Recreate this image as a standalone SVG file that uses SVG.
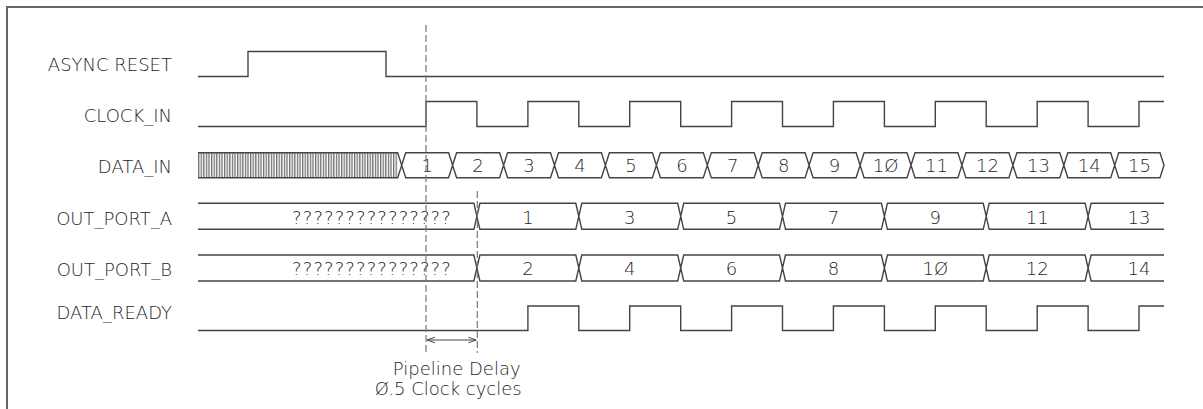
<svg xmlns="http://www.w3.org/2000/svg" width="1203" height="409" viewBox="0 0 1203 409">
<style>
  .sig{fill:none;stroke:#444;stroke-width:1.4;stroke-linejoin:miter}
  .bus{fill:#fff;stroke:#444;stroke-width:1.4;stroke-linejoin:miter}
  .lbl{font-family:"DejaVu Sans","Liberation Sans",sans-serif;font-size:18px;font-weight:200;fill:#1e1e1e;text-anchor:end}
  .val{font-family:"DejaVu Sans","Liberation Sans",sans-serif;font-size:18px;font-weight:200;fill:#1e1e1e;text-anchor:middle}
  .dash{fill:none;stroke:#777;stroke-width:1.2;stroke-dasharray:7,3}
  .dim{fill:none;stroke:#444;stroke-width:1.2}
</style>
<defs>
  <pattern id="hatch" x="198" y="0" width="2.6" height="10" patternUnits="userSpaceOnUse">
    <line x1="0.7" y1="0" x2="0.7" y2="10" stroke="#444" stroke-width="1"/>
  </pattern>
  <marker id="arr" viewBox="0 0 10 10" refX="10" refY="5" markerWidth="8" markerHeight="8" orient="auto-start-reverse" markerUnits="userSpaceOnUse">
    <path d="M0,1.5 L10,5 L0,8.5" fill="none" stroke="#444" stroke-width="1.2"/>
  </marker>
</defs>
<rect width="1203" height="409" fill="#fff"/>
<path d="M7,409 V7 H1203" fill="none" stroke="#666" stroke-width="2"/>

<g id="async_reset">
  <text class="lbl" x="172" y="70.7">ASYNC RESET</text>
  <path class="sig" d="M198,76.5 H248 V51.5 H386 V76.5 H1164"/>
</g>

<g id="clock_in">
  <text class="lbl" x="172" y="121.7">CLOCK_IN</text>
  <path class="sig" d="M198,126.5 H426 V101.5 H476.9 V126.5 H527.9 V101.5 H578.8 V126.5 H629.7 V101.5 H680.7 V126.5 H731.6 V101.5 H782.5 V126.5 H833.4 V101.5 H884.4 V126.5 H935.3 V101.5 H986.2 V126.5 H1037.2 V101.5 H1088.1 V126.5 H1139 V101.5 H1164"/>
</g>

<g id="data_in">
  <text class="lbl" x="172" y="172.7">DATA_IN</text>
  <rect x="198" y="152.7" width="199.7" height="25" fill="url(#hatch)"/>
  <path class="sig" d="M198,152.7 H397.7 L401.7,165.2 L397.7,177.7 H198"/>
  <path class="bus" d="M401.7,165.2 L405.7,152.7 H448.6 L452.6,165.2 L448.6,177.7 H405.7 Z
    M452.6,165.2 L456.6,152.7 H499.6 L503.6,165.2 L499.6,177.7 H456.6 Z
    M503.6,165.2 L507.6,152.7 H550.5 L554.5,165.2 L550.5,177.7 H507.6 Z
    M554.5,165.2 L558.5,152.7 H601.4 L605.4,165.2 L601.4,177.7 H558.5 Z
    M605.4,165.2 L609.4,152.7 H652.4 L656.4,165.2 L652.4,177.7 H609.4 Z
    M656.4,165.2 L660.4,152.7 H703.3 L707.3,165.2 L703.3,177.7 H660.4 Z
    M707.3,165.2 L711.3,152.7 H754.2 L758.2,165.2 L754.2,177.7 H711.3 Z
    M758.2,165.2 L762.2,152.7 H805.1 L809.1,165.2 L805.1,177.7 H762.2 Z
    M809.1,165.2 L813.1,152.7 H856.1 L860.1,165.2 L856.1,177.7 H813.1 Z
    M860.1,165.2 L864.1,152.7 H907.0 L911.0,165.2 L907.0,177.7 H864.1 Z
    M911.0,165.2 L915.0,152.7 H957.9 L961.9,165.2 L957.9,177.7 H915.0 Z
    M961.9,165.2 L965.9,152.7 H1008.9 L1012.9,165.2 L1008.9,177.7 H965.9 Z
    M1012.9,165.2 L1016.9,152.7 H1059.8 L1063.8,165.2 L1059.8,177.7 H1016.9 Z
    M1063.8,165.2 L1067.8,152.7 H1110.7 L1114.7,165.2 L1110.7,177.7 H1067.8 Z
    M1114.7,165.2 L1118.7,152.7 H1160 L1164,165.2 L1160,177.7 H1118.7 Z"/>
  <g>
    <text class="val" x="427.2" y="171.7">1</text>
    <text class="val" x="478.1" y="171.7">2</text>
    <text class="val" x="529.1" y="171.7">3</text>
    <text class="val" x="580.0" y="171.7">4</text>
    <text class="val" x="630.9" y="171.7">5</text>
    <text class="val" x="681.9" y="171.7">6</text>
    <text class="val" x="732.8" y="171.7">7</text>
    <text class="val" x="783.7" y="171.7">8</text>
    <text class="val" x="834.6" y="171.7">9</text>
    <text class="val" x="885.6" y="171.7">1Ø</text>
    <text class="val" x="936.5" y="171.7">11</text>
    <text class="val" x="987.4" y="171.7">12</text>
    <text class="val" x="1038.4" y="171.7">13</text>
    <text class="val" x="1089.3" y="171.7">14</text>
    <text class="val" x="1139.4" y="171.7">15</text>
  </g>
</g>

<g id="out_port_a">
  <text class="lbl" x="172" y="225">OUT_PORT_A</text>
  <path class="sig" d="M198,203.3 H473.9 L476.9,216.3 L473.9,229.3 H198 M1164,203.3 H1091.1 L1088.1,216.3 L1091.1,229.3 H1164"/>
  <path class="bus" d="M476.9,216.3 L479.9,203.3 H575.8 L578.8,216.3 L575.8,229.3 H479.9 Z
    M578.8,216.3 L581.8,203.3 H677.7 L680.7,216.3 L677.7,229.3 H581.8 Z
    M680.7,216.3 L683.7,203.3 H779.5 L782.5,216.3 L779.5,229.3 H683.7 Z
    M782.5,216.3 L785.5,203.3 H881.4 L884.4,216.3 L881.4,229.3 H785.5 Z
    M884.4,216.3 L887.4,203.3 H983.2 L986.2,216.3 L983.2,229.3 H887.4 Z
    M986.2,216.3 L989.2,203.3 H1085.1 L1088.1,216.3 L1085.1,229.3 H989.2 Z"/>
  <text class="val" x="372" y="223.8" letter-spacing="1.1">???????????????</text>
  <text class="val" x="527.9" y="223.5">1</text>
  <text class="val" x="629.7" y="223.5">3</text>
  <text class="val" x="731.6" y="223.5">5</text>
  <text class="val" x="833.4" y="223.5">7</text>
  <text class="val" x="935.3" y="223.5">9</text>
  <text class="val" x="1037.2" y="223.5">11</text>
  <text class="val" x="1139" y="223.5">13</text>
</g>

<g id="out_port_b">
  <text class="lbl" x="172" y="275.5">OUT_PORT_B</text>
  <g transform="translate(0,51.7)">
    <path class="sig" d="M198,203.3 H473.9 L476.9,216.3 L473.9,229.3 H198 M1164,203.3 H1091.1 L1088.1,216.3 L1091.1,229.3 H1164"/>
    <path class="bus" d="M476.9,216.3 L479.9,203.3 H575.8 L578.8,216.3 L575.8,229.3 H479.9 Z
      M578.8,216.3 L581.8,203.3 H677.7 L680.7,216.3 L677.7,229.3 H581.8 Z
      M680.7,216.3 L683.7,203.3 H779.5 L782.5,216.3 L779.5,229.3 H683.7 Z
      M782.5,216.3 L785.5,203.3 H881.4 L884.4,216.3 L881.4,229.3 H785.5 Z
      M884.4,216.3 L887.4,203.3 H983.2 L986.2,216.3 L983.2,229.3 H887.4 Z
      M986.2,216.3 L989.2,203.3 H1085.1 L1088.1,216.3 L1085.1,229.3 H989.2 Z"/>
    <text class="val" x="372" y="223.3" letter-spacing="1.1">???????????????</text>
    <text class="val" x="527.9" y="223">2</text>
    <text class="val" x="629.7" y="223">4</text>
    <text class="val" x="731.6" y="223">6</text>
    <text class="val" x="833.4" y="223">8</text>
    <text class="val" x="935.3" y="223">1Ø</text>
    <text class="val" x="1037.2" y="223">12</text>
    <text class="val" x="1139" y="223">14</text>
  </g>
</g>

<g id="data_ready">
  <text class="lbl" x="172" y="319">DATA_READY</text>
  <path class="sig" d="M198,330.5 H527.9 V306 H578.8 V330.5 H629.7 V306 H680.7 V330.5 H731.6 V306 H782.5 V330.5 H833.4 V306 H884.4 V330.5 H935.3 V306 H986.2 V330.5 H1037.2 V306 H1088.1 V330.5 H1139 V306 H1164"/>
</g>

<g id="connectors">
  <line class="dash" x1="426" y1="25" x2="426" y2="353"/>
  <line class="dash" x1="477.3" y1="191" x2="477.3" y2="353"/>
  <line class="dim" x1="427" y1="340" x2="476.3" y2="340" marker-start="url(#arr)" marker-end="url(#arr)"/>
</g>

<g id="pipeline_delay">
  <text class="val" x="456.7" y="375">Pipeline Delay</text>
  <text class="val" x="448.3" y="395">Ø.5 Clock cycles</text>
</g>
</svg>
